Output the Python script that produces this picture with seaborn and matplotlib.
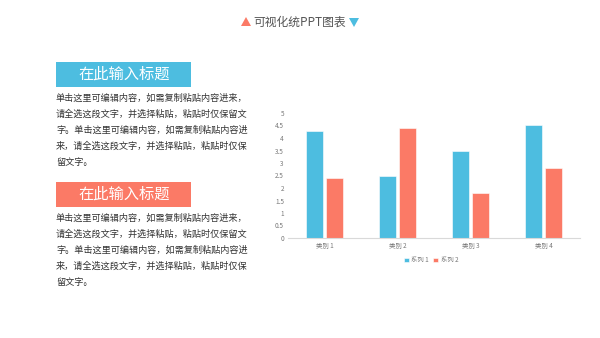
import matplotlib
matplotlib.use("Agg")
import matplotlib.pyplot as plt
import seaborn as sns
import pandas as pd
from matplotlib.patches import Rectangle, Polygon

categories = ["类别 1", "类别 2", "类别 3", "类别 4"]
series_names = ["系列 1", "系列 2"]
series1 = [4.3, 2.5, 3.5, 4.5]
series2 = [2.4, 4.4, 1.8, 2.8]
yticks = [0, 0.5, 1, 1.5, 2, 2.5, 3, 3.5, 4, 4.5, 5]

title = "可视化统PPT图表"
box_title = "在此输入标题"
body_lines = ["单击这里可编辑内容，如需复制粘贴内容进来，",
              "请全选这段文字，并选择粘贴，粘贴时仅保留文",
              "字。单击这里可编辑内容，如需复制粘贴内容进",
              "来，请全选这段文字，并选择粘贴，粘贴时仅保",
              "留文字。"]

BLUE = "#4DBDE0"
CORAL = "#FB7A66"

sns.set_theme(style="white")
plt.rcParams['font.family'] = ['Noto Sans CJK SC', 'DejaVu Sans']

df = pd.DataFrame({
    "category": categories * 2,
    "series": [series_names[0]] * 4 + [series_names[1]] * 4,
    "value": series1 + series2,
})

fig = plt.figure(figsize=(6, 3.38), dpi=100)
fig.patch.set_facecolor("white")

# Title
fig.text(0.5, 1 - 22 / 338, title, ha="center", va="center", fontsize=8.5, color="#555555")
fig.patches.append(Polygon([[241 / 600, 1 - 26 / 338], [251 / 600, 1 - 26 / 338], [246 / 600, 1 - 17 / 338]],
                           closed=True, transform=fig.transFigure, facecolor=CORAL, edgecolor="none"))
fig.patches.append(Polygon([[349 / 600, 1 - 18 / 338], [359 / 600, 1 - 18 / 338], [354 / 600, 1 - 27 / 338]],
                           closed=True, transform=fig.transFigure, facecolor=BLUE, edgecolor="none"))

# Text blocks
for top, color in [(62, BLUE), (182, CORAL)]:
    fig.patches.append(Rectangle((56 / 600, 1 - (top + 25) / 338), 135 / 600, 25 / 338,
                                 transform=fig.transFigure, facecolor=color, edgecolor="none"))
    fig.text(124 / 600, 1 - (top + 12.5) / 338, box_title, ha="center", va="center",
             fontsize=11, color="white")
    for i, line in enumerate(body_lines):
        fig.text(56 / 600, 1 - (top + 36 + i * 16) / 338, line, ha="left", va="center",
                 fontsize=6.6, color="#333333")

# Chart
ax = fig.add_axes([288 / 600, 1 - 238 / 338, 292 / 600, 125 / 338])
sns.barplot(data=df, x="category", y="value", hue="series", palette=[BLUE, CORAL],
            width=0.56, gap=0.17, saturation=1, ax=ax, legend=True,
            edgecolor="white", linewidth=0.4)
ax.set_ylim(0, 5)
ax.set_xlim(-0.5, 3.5)
ax.set_yticks(yticks)
ax.set_yticklabels([f"{t:g}" for t in yticks])
ax.set_xlabel("")
ax.set_ylabel("")
for s in ["top", "right", "left"]:
    ax.spines[s].set_visible(False)
ax.spines["bottom"].set_color("#D9D9D9")
ax.spines["bottom"].set_linewidth(0.8)
ax.tick_params(axis="both", length=0, labelsize=4.6, labelcolor="#777777", pad=3)
ax.grid(False)
ax.set_facecolor("white")
ax.legend(loc="upper center", bbox_to_anchor=(0.49, -0.1), ncol=2, frameon=False,
          fontsize=4.6, handlelength=0.8, handleheight=0.8, columnspacing=0.6,
          handletextpad=0.4, labelcolor="#777777")

fig.savefig("out.png", dpi=100, facecolor="white")
